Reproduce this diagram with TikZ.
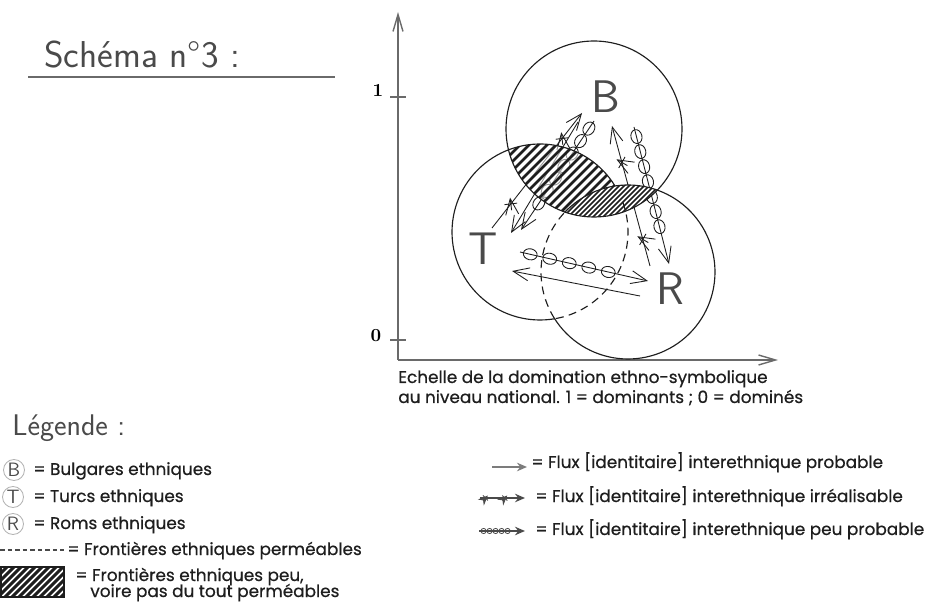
\documentclass[tikz,border=0pt]{standalone}
\usepackage{fontspec}
\usepackage{tikz}
\usetikzlibrary{arrows.meta,positioning,decorations.markings}
\newfontfamily\legfont{Poppins}[FakeBold=0.6]
\definecolor{ink}{HTML}{1E1E1E}
\definecolor{inkgray}{HTML}{4A4A4A}
\definecolor{rulegray}{HTML}{6A6A6A}
\definecolor{ringgray}{HTML}{B4B4B4}
\definecolor{arrowgray}{HTML}{7C7C7C}
\tikzset{
  titletext/.style={font=\sffamily\fontsize{21.3}{24}\selectfont,text=inkgray,inner sep=0pt},
  axisline/.style={draw=rulegray,line width=0.8pt,-{Straight Barb[length=3.4mm,width=2mm]}},
  tickline/.style={draw=rulegray,line width=0.7pt},
  ticklabel/.style={font=\bfseries\fontsize{10.5}{12}\selectfont,anchor=base,inner sep=0pt},
  groupring/.style={draw=ink,line width=0.65pt},
  openring/.style={draw=ink,line width=0.65pt,dash pattern=on 4.5pt off 3pt},
  grouplabel/.style={font=\sffamily\fontsize{26}{26}\selectfont,text=inkgray,inner sep=0pt,anchor=base},
  flowline/.style={draw=ink,line width=0.5pt,-{Straight Barb[length=3.2mm,width=2.6mm]}},
  crossmark/.style={postaction={decorate,decoration={markings,
      mark=at position #1 with {\draw[ink,line width=0.5pt] (-4.5,-4.5)--(4.5,4.5) (-4.5,4.5)--(4.5,-4.5);}}}},
  ringmarks/.style n args={3}{postaction={decorate,decoration={markings,
      mark=between positions #1 and #2 step #3 with {\draw[ink,line width=0.5pt] (0,0) circle[x radius=7,y radius=5.5];}}}},
  hatchline/.style={ink,line width=1.5pt},
  densehatch/.style={ink,line width=0.9pt},
  keyring/.style={circle,draw=ringgray,line width=0.5pt,minimum size=4.2mm,inner sep=0pt,
      font=\sffamily\fontsize{11}{11}\selectfont,text=inkgray},
  keytext/.style={font=\legfont\fontsize{9.6}{11}\selectfont,text=ink,inner sep=0pt,anchor=base west},
  keyhead/.style={font=\sffamily\fontsize{17}{19}\selectfont,text=inkgray,inner sep=0pt,anchor=base west},
  keyprob/.style={draw=arrowgray,line width=1.1pt,-{Stealth[length=2mm,width=1.7mm]}},
  keyflow/.style={draw=inkgray,line width=0.8pt,-{Stealth[length=2mm,width=1.7mm]}},
  keycross/.style={postaction={decorate,decoration={markings,
      mark=at position #1 with {\draw[inkgray,line width=0.5pt] (-2.5,-2.5)--(2.5,2.5) (-2.5,2.5)--(2.5,-2.5);}}}},
  keyrings/.style n args={3}{postaction={decorate,decoration={markings,
      mark=between positions #1 and #2 step #3 with {\draw[inkgray,line width=0.45pt] (0,0) circle[radius=2.6];}}}},
  keydash/.style={draw=inkgray,line width=0.7pt,dash pattern=on 2.6pt off 1.7pt}
}
\begin{document}
\begin{tikzpicture}[x=0.2mm,y=-0.2mm]
\useasboundingbox (0,0) rectangle (926,603);
% title
\node[titletext,anchor=base west] (title) at (44,68) {Schéma n°3 :};
\draw[rulegray,line width=0.8pt] (28,77) -- (335,77);
% axes
\coordinate (origin) at (398,360);
\coordinate (ytip) at (398,12);
\coordinate (xtip) at (778,360);
\draw[axisline] (origin) -- (ytip);
\draw[axisline] (origin) -- (xtip);
\draw[tickline] (390,97) -- (406,97);
\draw[tickline] (390,340) -- (406,340);
\node[ticklabel] (ytopval) at (378,97) {1};
\node[ticklabel] (ylowval) at (376,342) {0};
\node[keytext] (scalecap) at (398,383) {Echelle de la domination ethno-symbolique};
\node[keytext] (scalecapb) at (398,403) {au niveau national. 1 = dominants ; 0 = dominés};
% group centres
\coordinate (cB) at (594,129);
\coordinate (cT) at (540,232);
\coordinate (cR) at (628,272);
% flows B-T
\coordinate (btXs) at (492,228); \coordinate (btXe) at (582,113);
\draw[flowline,crossmark=0.21,crossmark=0.78] (btXs) -- (btXe);
\coordinate (btPs) at (578,122); \coordinate (btPe) at (511,233);
\draw[flowline] (btPs) -- (btPe);
\coordinate (btCs) at (594,121); \coordinate (btCe) at (521,230);
\draw[flowline,ringmarks={0.07}{0.8}{3mm}] (btCs) -- (btCe);
% flows B-R
\coordinate (rbXs) at (650,266); \coordinate (rbXe) at (612,126);
\draw[flowline,crossmark=0.19,crossmark=0.74] (rbXs) -- (rbXe);
\coordinate (brCs) at (634,127); \coordinate (brCe) at (669,264);
\draw[flowline,ringmarks={0.07}{0.75}{3.1mm}] (brCs) -- (brCe);
% flows T-R
\coordinate (trCs) at (520,252); \coordinate (trCe) at (648,281);
\draw[flowline,ringmarks={0.08}{0.72}{4mm}] (trCs) -- (trCe);
\coordinate (rtPs) at (640,296); \coordinate (rtPe) at (512,271);
\draw[flowline] (rtPs) -- (rtPe);
% closed borders
\begin{scope}
  \clip (cB) circle[radius=88];
  \fill[white,opacity=0.55] (cT) circle[radius=88] (cR) circle[radius=87];
\end{scope}
\begin{scope}
  \clip (cB) circle[radius=88];
  \clip (cT) circle[radius=88];
  \foreach \k in {380,389,...,660} \draw[hatchline] (\k,240) -- ++(130,-130);
\end{scope}
\begin{scope}
  \clip (cB) circle[radius=88];
  \clip (cR) circle[radius=87];
  \fill[white] (540,170) rectangle (680,230);
  \foreach \k in {440,445,...,680} \draw[densehatch] (\k,240) -- ++(80,-80);
\end{scope}
% rings
\draw[groupring] (cB) circle[radius=88];
\draw[groupring,domain=80.1:328.5,samples=80,variable=\t] plot ({540+88*cos(\t)},{232+88*sin(\t)});
\draw[openring,domain=-20:80.1,samples=40,variable=\t] plot ({540+88*cos(\t)},{232+88*sin(\t)});
\draw[groupring,domain=223.2:507.8,samples=90,variable=\t] plot ({628+87*cos(\t)},{272+87*sin(\t)});
\draw[openring,domain=147.8:223.2,samples=30,variable=\t] plot ({628+87*cos(\t)},{272+87*sin(\t)});
\node[grouplabel] (labB) at (606,113) {B};
\node[grouplabel] (labT) at (483,265) {T};
\node[grouplabel] (labR) at (670,305) {R};
% legend
\node[keyhead] (leghead) at (12,436) {Légende :};
\node[keyring] (keyB) at (14,470) {B};
\node[keyring] (keyT) at (13,497) {T};
\node[keyring] (keyR) at (13,524) {R};
\node[keytext] (keyBtxt) at (33,475) {= Bulgares ethniques};
\node[keytext] (keyTtxt) at (33,502) {= Turcs ethniques};
\node[keytext] (keyRtxt) at (33,529) {= Roms ethniques};
\coordinate (dashA) at (0,550); \coordinate (dashB) at (64,550);
\draw[keydash] (dashA) -- (dashB);
\node[keytext] (keydashtxt) at (67,555) {= Frontières ethniques perméables};
\begin{scope}
  \clip (1,567) rectangle (64,597);
  \foreach \k in {-40,-33,...,70} \draw[ink,line width=1.7pt] (\k,600) -- ++(35,-35);
\end{scope}
\draw[ink,line width=0.9pt] (1,567) rectangle (64,597);
\node[keytext] (keyhatchtxt) at (75,581) {= Frontières ethniques peu,};
\node[keytext] (keyhatchtxtb) at (90,597) {voire pas du tout perméables};
\coordinate (kP0) at (492,467); \coordinate (kP1) at (527,467);
\draw[keyprob] (kP0) -- (kP1);
\node[keytext] (kPtxt) at (531,468) {= Flux [identitaire] interethnique probable};
\coordinate (kX0) at (480,498); \coordinate (kX1) at (525,498);
\draw[keyflow,keycross=0.12,keycross=0.55] (kX0) -- (kX1);
\node[keytext] (kXtxt) at (535,502) {= Flux [identitaire] interethnique irréalisable};
\coordinate (kC0) at (479,531); \coordinate (kC1) at (525,531);
\draw[keyflow,keyrings={0.1}{0.7}{1.2mm}] (kC0) -- (kC1);
\node[keytext] (kCtxt) at (535,535) {= Flux [identitaire] interethnique peu probable};
\end{tikzpicture}
\end{document}
